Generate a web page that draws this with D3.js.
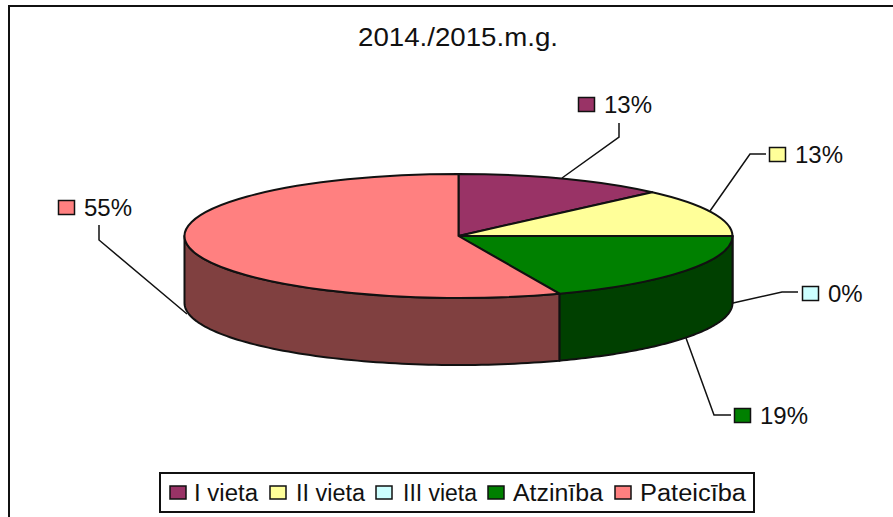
<!DOCTYPE html>
<html><head><meta charset="utf-8">
<script src="https://cdn.jsdelivr.net/npm/d3@7"></script>
<style>html,body{margin:0;padding:0;background:#fff}svg{display:block}text{font-family:"Liberation Sans",Arial,sans-serif;fill:#111}</style>
</head><body><svg id="c" width="893" height="517"></svg>
<script>
const title = "2014./2015.m.g.";
const categories = ["I vieta","II vieta","III vieta","Atzinība","Pateicība"];
const values = [12.5,12.5,0,19,56];
const valueLabels = ["13%","13%","0%","19%","55%"];
const colors = ["#993366","#FFFF99","#CCFFFF","#008000","#FF8080"];
const sideColors = ["#4d1a33","#80804d","#668080","#004000","#804040"];

const labelBoxes = [[578,97],[769,147],[802,286],[734,408],[58,200]];
const leaders = [
  [[562,178],[619,137],[619,123]],
  [[710,211],[750,154],[766,154]],
  [[733,303],[782,292],[798,292]],
  [[686,338],[714,415],[731,415]],
  [[187,314],[99,240],[99,225]]
];
const legendSwatchX = [170,270,376,488,615];
const legendTextX = [194,296,403,513,640];
const legendTextW = [64,69,74,90,106];

const svg = d3.select("#c");
const cx=458.5, cy=236, rx=274, ry=62, depth=67;
const pie = d3.pie().value(d=>d).sort(null);
const arcs = pie(values);
const ex = d3.scaleLinear().domain([-1,1]).range([cx-rx,cx+rx]);
const ey = d3.scaleLinear().domain([-1,1]).range([cy-ry,cy+ry]);

// frame
svg.append("path").attr("d",d3.line()([[9,517],[9,6],[893,6]])).attr("fill","none").attr("stroke","#111").attr("stroke-width",2);

// side walls
function wall(a0,a1){
  const s=Math.max(a0,Math.PI/2), e=Math.min(a1,Math.PI*1.5);
  if(e<=s) return null;
  const n=80, pts=d3.range(n+1).map(i=>s+(e-s)*i/n);
  const top=pts.map(a=>[ex(Math.sin(a)),ey(-Math.cos(a))]);
  const bot=pts.slice().reverse().map(a=>[ex(Math.sin(a)),ey(-Math.cos(a))+depth]);
  return d3.line()(top.concat(bot))+"Z";
}
svg.append("g").selectAll("path").data(arcs.filter(d=>d.value>0&&wall(d.startAngle,d.endAngle)))
  .join("path").attr("d",d=>wall(d.startAngle,d.endAngle))
  .attr("fill",d=>sideColors[d.index]).attr("stroke","#111").attr("stroke-width",2).attr("stroke-linejoin","round");

// top face
const arc = d3.arc().innerRadius(0).outerRadius(rx);
svg.append("g").attr("transform",`translate(${cx},${cy}) scale(1,${ry/rx})`)
  .selectAll("path").data(arcs.filter(d=>d.value>0)).join("path").attr("d",arc)
  .attr("fill",d=>colors[d.index]).attr("stroke","#111").attr("stroke-width",2)
  .attr("vector-effect","non-scaling-stroke").attr("stroke-linejoin","round");

// title
svg.append("text").attr("x",358).attr("y",46).attr("font-size",25)
  .attr("textLength",200).attr("lengthAdjust","spacingAndGlyphs").text(title);

// leaders
svg.append("g").selectAll("path").data(leaders).join("path").attr("d",d=>d3.line()(d))
  .attr("fill","none").attr("stroke","#111").attr("stroke-width",1.5);

// data labels
const lab = svg.append("g").selectAll("g").data(valueLabels).join("g")
  .attr("transform",(d,i)=>`translate(${labelBoxes[i][0]},${labelBoxes[i][1]})`);
lab.append("rect").attr("x",.5).attr("y",.5).attr("width",16).attr("height",14).attr("fill",(d,i)=>colors[i]).attr("stroke","#111").attr("stroke-width",1.5);
lab.append("text").attr("x",26).attr("y",16).attr("font-size",24).text(d=>d);

// legend
svg.append("rect").attr("x",160).attr("y",473).attr("width",594).attr("height",39)
  .attr("fill","#fff").attr("stroke","#111").attr("stroke-width",2);
const leg = svg.append("g").selectAll("g").data(categories).join("g");
leg.append("rect").attr("x",(d,i)=>legendSwatchX[i]).attr("y",486).attr("width",16).attr("height",13)
  .attr("fill",(d,i)=>colors[i]).attr("stroke","#111").attr("stroke-width",1.5);
leg.append("text").attr("x",(d,i)=>legendTextX[i]).attr("y",501).attr("font-size",23)
  .attr("textLength",(d,i)=>legendTextW[i]).attr("lengthAdjust","spacingAndGlyphs").text(d=>d);
</script></body></html>
